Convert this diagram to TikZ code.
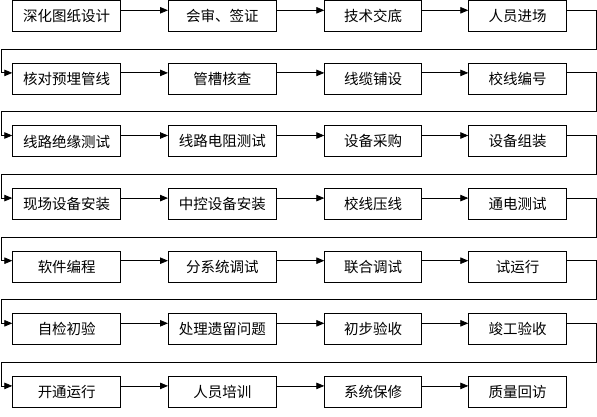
\documentclass[tikz,border=0pt]{standalone}
\usepackage{fontspec}
\setmainfont{Noto Sans CJK SC}
\usetikzlibrary{arrows.meta}
\begin{document}
\begin{tikzpicture}[x=1pt,y=-1pt,
  box/.style={draw, line width=0.9pt, rectangle, anchor=north west,
    minimum height=31pt, inner sep=0pt, font=\fontsize{14.5}{16}\selectfont},
  conn/.style={draw, line width=0.8pt, -{Triangle[length=8pt,width=6.5pt]}}]
\useasboundingbox (0,0) rectangle (597,417);
\foreach \r/\a/\b/\c/\d in {
  0/深化图纸设计/会审、签证/技术交底/人员进场,
  1/核对预埋管线/管槽核查/线缆铺设/校线编号,
  2/线路绝缘测试/线路电阻测试/设备采购/设备组装,
  3/现场设备安装/中控设备安装/校线压线/通电测试,
  4/软件编程/分系统调试/联合调试/试运行,
  5/自检初验/处理遗留问题/初步验收/竣工验收,
  6/开通运行/人员培训/系统保修/质量回访}{
  \pgfmathsetmacro{\t}{0.3+62.6*\r}
  \node[box, minimum width=108pt] (n\r-1) at (12.3,\t) {\a};
  \node[box, minimum width=108pt] (n\r-2) at (168,\t) {\b};
  \node[box, minimum width=96.5pt] (n\r-3) at (324.3,\t) {\c};
  \node[box, minimum width=97.5pt] (n\r-4) at (468.3,\t) {\d};
  \draw[conn] ([yshift=-10pt]n\r-1.north east) -- ([yshift=-10pt]n\r-2.north west);
  \draw[conn] ([yshift=-10pt]n\r-2.north east) -- ([yshift=-10pt]n\r-3.north west);
  \draw[conn] ([yshift=-10pt]n\r-3.north east) -- ([yshift=-10pt]n\r-4.north west);
}
\foreach \r in {0,...,5}{
  \pgfmathtruncatemacro{\s}{\r+1}
  \pgfmathsetmacro{\ry}{0.3+62.6*\r+49}
  \draw[conn] ([yshift=-10pt]n\r-4.north east) -| (596,\ry) -| (1.5,\ry+23.6)
     -- ([yshift=-10pt]n\s-1.north west);
}
\end{tikzpicture}
\end{document}
